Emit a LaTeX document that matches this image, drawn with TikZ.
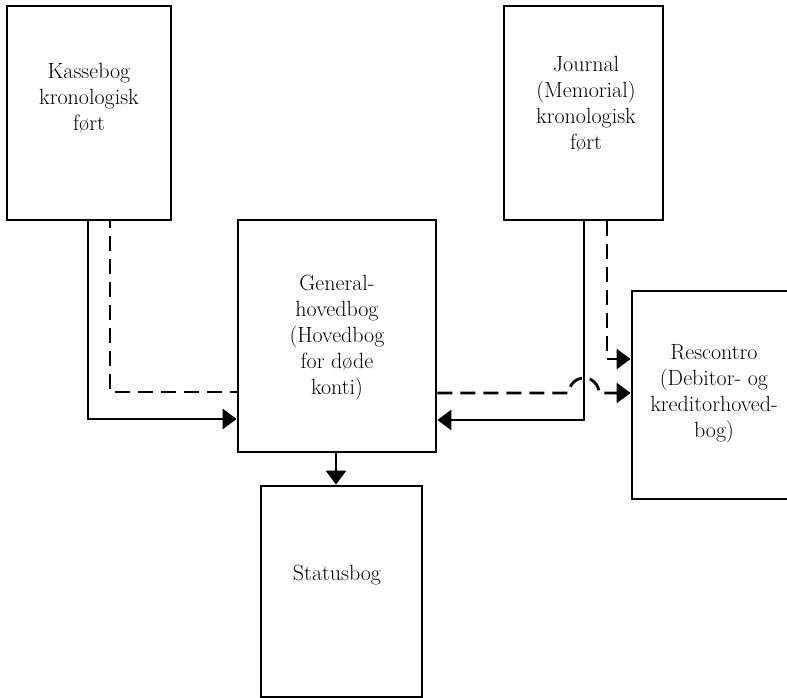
\documentclass[tikz,border=0pt]{standalone}
\usepackage{fontspec}
\usetikzlibrary{arrows.meta}
\begin{document}
\begin{tikzpicture}[x=1pt,y=-1pt,
  box/.style={draw=black, line width=2.8pt, rectangle, inner sep=0pt},
  lbl/.style={align=center, inner sep=0pt, font=\fontsize{22}{26}\selectfont},
  conn/.style={draw=black, line width=2.8pt, line join=miter},
  dsh/.style={conn, dash pattern=on 15pt off 8pt},
  tip/.style={-{Triangle[length=14pt,width=20pt]}}
]
\useasboundingbox (0,0) rectangle (787,698);
\clip (0,0) rectangle (787,698);

% boxes
\node[box, minimum width=164pt, minimum height=214pt] (kasse) at (89,113) {};
\node[box, minimum width=159pt, minimum height=214pt] (journal) at (583.5,113) {};
\node[box, minimum width=198pt, minimum height=232pt] (gen) at (337,336) {};
\node[box, minimum width=165pt, minimum height=208pt] (resc) at (714.5,395) {};
\node[box, minimum width=161pt, minimum height=211pt] (status) at (341.5,591.5) {};

% texts
\node[lbl] (kasseT) at (89,98) {Kassebog\\kronologisk\\ført};
\node[lbl] (journalT) at (586,104) {Journal\\(Memorial)\\kronologisk\\ført};
\node[lbl] (genT) at (337,338) {General-\\hovedbog\\(Hovedbog\\for døde\\konti)};
\node[lbl] (rescT) at (714,394) {Rescontro\\(Debitor- og\\kreditorhoved-\\bog)};
\node[lbl] (statusT) at (337,575) {Statusbog};

% Kassebog -> General
\draw[conn, tip] (kasse.south -| 88,0) -- (88,419) -- (gen.west |- 0,419);
\draw[dsh, dash phase=8pt] (kasse.south -| 110,0) -- (110,392) -- (gen.west |- 0,392);

% Journal -> General (solid)
\draw[conn, tip] (journal.south -| 584,0) -- (584,420) -- (gen.east |- 0,420);
% Journal -> Rescontro (dashed)
\draw[dsh, tip] (journal.south -| 607,0) -- (607,359) -- (resc.west |- 0,359);
% General -> Rescontro (dashed, with hop over the solid line)
\draw[dsh, tip] (gen.east |- 0,393) -- (569,393) arc[start angle=180, end angle=360, radius=15] -- (resc.west |- 0,393);

% General -> Statusbog
\draw[conn, tip] (gen.south -| 336,0) -- (status.north -| 336,0);
\end{tikzpicture}
\end{document}
